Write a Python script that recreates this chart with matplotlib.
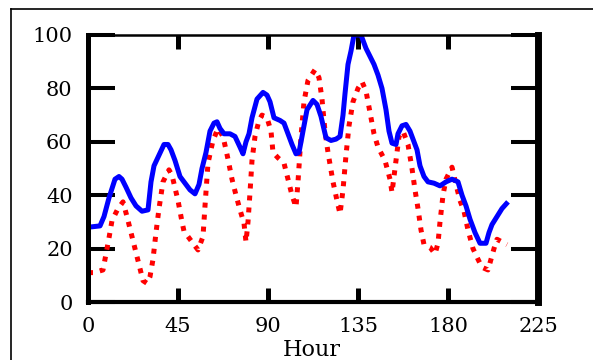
import matplotlib.pyplot as plt
from matplotlib.lines import Line2D
from matplotlib.transforms import ScaledTranslation

# blue solid series (hour, value)
blue_hours = [0, 6, 8, 10.5, 13.5, 15.5, 17, 19, 21.5, 24, 27, 30, 31.5, 33, 35.5, 38, 40, 41.5,
              43.5, 46, 48, 51, 53.5, 55.5, 57, 59, 61, 63, 64.5, 66, 68, 71, 73.5, 76, 77.5, 79,
              80.5, 82, 84.5, 87.5, 89.5, 91, 93, 96, 98, 100, 102, 104, 105.5, 107, 109.5, 112.5,
              114.5, 116.5, 119, 121.5, 124, 126, 127.5, 128.5, 130, 131.5, 133, 136.5, 139, 141,
              143, 145, 147, 149, 150.5, 152, 154, 155, 157, 159, 161, 163, 164.5, 166, 168, 170,
              173, 176, 179, 182, 185, 187, 189, 191, 193.5, 196, 199, 200.5, 202, 204.5, 207, 210]
blue_vals = [28, 28.5, 32, 39, 46, 47, 46, 43, 39, 36, 34, 34.5, 45, 51, 55, 59, 59, 57,
             53, 47, 45, 42, 40.5, 44, 50, 56, 64, 67, 67.5, 65, 63, 63, 62, 58, 55.5, 60,
             63, 69, 76, 78.5, 77.5, 75, 69, 68, 67, 63, 59, 55.5, 56, 62, 72, 75.5,
             74, 69.5, 61.5, 60.5, 61, 62, 70, 78, 89, 94, 100, 100, 95, 92,
             89, 85, 80, 72, 64, 59.5, 59, 63, 66, 66.5, 64, 60, 57, 51, 47, 45,
             44.5, 43.5, 45, 46, 45, 40, 36, 31, 26, 22, 22, 26, 29, 32, 35, 37.5]

# red dotted series (hour, value)
red_hours = [0, 3, 7.5, 9, 10.5, 12, 15, 17.5, 19.5, 21.5, 23.5, 25.5, 27.5, 29.5, 31, 32.5, 34,
             35.5, 37.5, 40.5, 42, 45, 47, 48, 51.5, 55, 57.5, 58.5, 60, 62.5, 65, 67.5, 69, 70,
             72, 74, 76, 78, 79, 80, 81, 82, 83.5, 85.5, 87, 89.5, 91.5, 92.5, 95, 98, 100, 102,
             104, 105, 106.5, 108, 110, 113.5, 115.5, 117, 118.5, 120, 122.5, 124.5, 126, 127.5,
             129, 130.5, 132.5, 135, 137, 139, 141, 143, 145, 148.5, 151, 152, 153.5, 155.5,
             157.5, 160, 162, 163.5, 165, 166.5, 168, 171, 173.5, 175, 176, 177.5, 179, 182, 184,
             186, 188, 190, 192.5, 195, 197, 200, 201.5, 203, 204.5, 207, 209.5]
red_vals = [11, 11, 12, 18, 24, 30.5, 35, 37.5, 32, 26, 20, 14, 8, 7, 9.5, 16, 26,
            35, 45, 49.5, 47.5, 38, 30, 26.5, 23, 19.5, 24.5, 36, 52, 60.5, 65, 62, 57, 53.5,
            46, 40, 34.5, 29.5, 22.5, 30, 41, 53, 62, 68, 70, 69, 64, 56, 54, 52, 46, 40,
            35.5, 45, 62, 75, 83, 87, 84, 76, 64, 56, 45, 38, 33, 42,
            55, 66, 75, 80, 82.5, 79, 71, 63, 58, 53, 46, 41, 50, 62,
            64, 59, 50, 42, 35, 27, 21.5, 20.5, 18, 22, 30, 40, 46, 50.5, 44,
            38, 34, 27, 20, 16, 13, 12, 16, 20, 23.5, 22.5, 21.5]

x_ticks = [0, 45, 90, 135, 180, 225]
y_ticks = [0, 20, 40, 60, 80, 100]

fig = plt.figure(figsize=(5.93, 3.6), dpi=100)
ax = fig.add_axes([88 / 593, 1 - 302 / 360, 450 / 593, 267 / 360])

ax.plot(red_hours, red_vals, color="#ff0000", lw=3.6, linestyle=(0, (1.0, 1.4)),
        dash_capstyle="butt", solid_joinstyle="miter")
ax.plot(blue_hours, blue_vals, color="#0000ff", lw=3.6, solid_capstyle="butt")

ax.set_xlim(0, 225)
ax.set_ylim(0, 100)
ax.set_xticks(x_ticks)
ax.set_yticks(y_ticks)

font = dict(family="DejaVu Serif", size=15)
ax.set_xticklabels([str(t) for t in x_ticks], **font)
ax.set_yticklabels([str(t) for t in y_ticks], **font)
shift = ScaledTranslation(5 / 100, 0, fig.dpi_scale_trans)
for lbl in ax.get_xticklabels():
    lbl.set_transform(lbl.get_transform() + shift)

ax.tick_params(axis="x", direction="in", length=10, width=3.6, top=True, pad=11, colors="black")
ax.tick_params(axis="y", direction="in", length=19.5, width=2.9, right=True, pad=11, colors="black")

ax.spines["left"].set_linewidth(3.6)
ax.spines["bottom"].set_linewidth(3.0)
ax.spines["right"].set_linewidth(5.0)
ax.spines["top"].set_linewidth(1.8)

# axis title sits at the very bottom edge, kept fully inside the picture
fig.text(312 / 593, 1 - 339 / 360, "Hour", ha="center", va="top", family="DejaVu Serif", size=16)

# frame around the picture
fig.add_artist(Line2D([11 / 593, 11 / 593], [0, 1 - 9 / 360], transform=fig.transFigure, color="black", lw=1.2))
fig.add_artist(Line2D([11 / 593, 1], [1 - 9 / 360, 1 - 9 / 360], transform=fig.transFigure, color="black", lw=1.2))

fig.savefig("out.png", dpi=100)
